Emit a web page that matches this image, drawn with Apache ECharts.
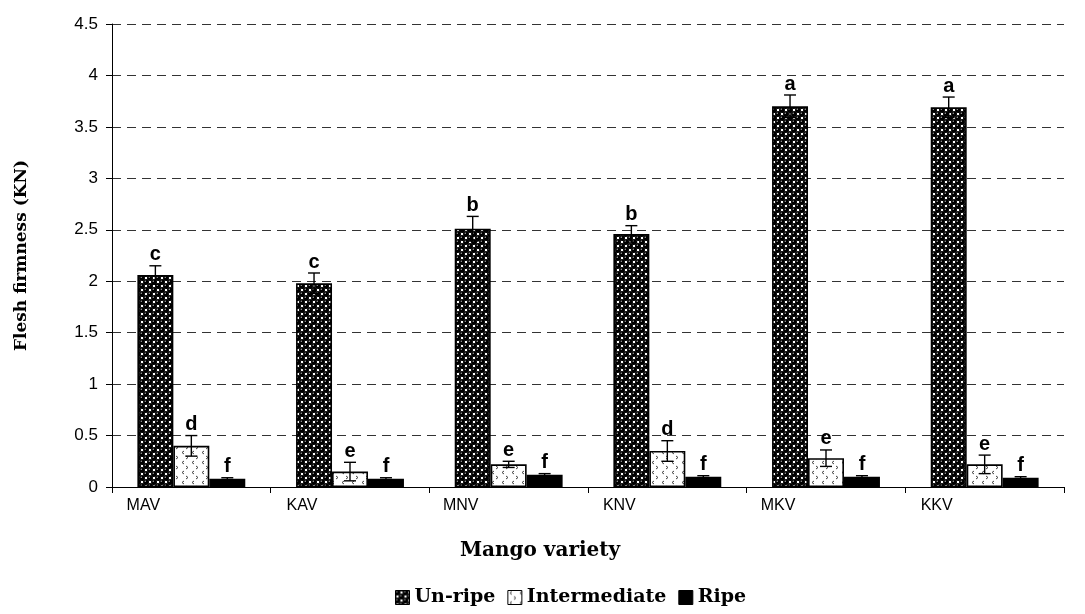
<!DOCTYPE html>
<html>
<head>
<meta charset="utf-8">
<script src="https://cdn.jsdelivr.net/npm/echarts@6/dist/echarts.min.js"></script>
<style>
  html, body { margin: 0; padding: 0; background: #fff; }
  #chart { width: 1085px; height: 614px; }
</style>
</head>
<body>
<div id="chart"></div>
<script>
// data
const categories = ['MAV', 'KAV', 'MNV', 'KNV', 'MKV', 'KKV']
const seriesNames = ['Un-ripe', 'Intermediate', 'Ripe']

const unripe = [2.06, 1.98, 2.51, 2.46, 3.70, 3.69]
const intermediate = [0.40, 0.15, 0.22, 0.35, 0.28, 0.22]
const ripe = [0.08, 0.08, 0.12, 0.10, 0.10, 0.09]

const unripeErr = [0.09, 0.10, 0.12, 0.08, 0.11, 0.10]
const intermediateErr = [0.10, 0.09, 0.03, 0.10, 0.08, 0.09]
const ripeErr = [0.01, 0.01, 0.01, 0.01, 0.01, 0.01]

const unripeLetters = ['c', 'c', 'b', 'b', 'a', 'a']
const intermediateLetters = ['d', 'e', 'e', 'd', 'e', 'e']
const ripeLetters = ['f', 'f', 'f', 'f', 'f', 'f']

const yTicks = [0, 0.5, 1, 1.5, 2, 2.5, 3, 3.5, 4, 4.5]

const values = [unripe, intermediate, ripe]
const errors = [unripeErr, intermediateErr, ripeErr]
const letters = [unripeLetters, intermediateLetters, ripeLetters]

const catGap = 0.32
const serif = '"DejaVu Serif", "Liberation Serif", serif'

// fill patterns
function spherePattern() {
  const c = document.createElement('canvas')
  c.width = 8; c.height = 8
  const g = c.getContext('2d')
  g.fillStyle = '#fff'
  g.fillRect(0, 0, 8, 8)
  g.fillStyle = '#000'
  ;[[2, 2], [6, 6], [10, 2], [-2, 6], [2, 10], [6, -2], [10, 10], [-2, -2]].forEach(p => {
    g.beginPath(); g.arc(p[0], p[1], 3.0, 0, Math.PI * 2); g.fill()
  })
  g.fillStyle = '#aaa'
  ;[[1.3, 1.3], [5.3, 5.3]].forEach(p => {
    g.beginPath(); g.arc(p[0], p[1], 0.7, 0, Math.PI * 2); g.fill()
  })
  return c
}
function dotPattern() {
  const c = document.createElement('canvas')
  c.width = 10; c.height = 10
  const g = c.getContext('2d')
  g.fillStyle = '#fff'
  g.fillRect(0, 0, 10, 10)
  g.strokeStyle = '#444'
  g.lineWidth = 1
  g.beginPath()
  g.moveTo(4, 1); g.lineTo(2, 2.5); g.lineTo(4, 4)
  g.moveTo(6, 6); g.lineTo(8, 7.5); g.lineTo(6, 9)
  g.stroke()
  return c
}

const fills = [
  { image: spherePattern(), repeat: 'repeat' },
  { image: dotPattern(), repeat: 'repeat' },
  '#000'
]

const chart = echarts.init(document.getElementById('chart'))

const barSeries = seriesNames.map((name, i) => ({
  name: name,
  type: 'bar',
  data: values[i],
  barGap: 0,
  barCategoryGap: (catGap * 100) + '%',
  itemStyle: { color: fills[i], borderColor: '#000', borderWidth: 1.6 },
  animation: false
}))

// error bars + significance letters drawn on top of the bars
const errData = []
values.forEach((vals, s) => {
  vals.forEach((v, k) => errData.push([k, v, errors[s][k], s]))
})

const errSeries = {
  type: 'custom',
  data: errData,
  z: 10,
  silent: true,
  animation: false,
  renderItem: function (params, api) {
    const k = api.value(0), v = api.value(1), e = api.value(2), s = api.value(3)
    const band = api.size([1, 0])[0]
    const bw = band * (1 - catGap) / 3
    const x = api.coord([k, 0])[0] + (s - 1) * bw
    const yHi = api.coord([k, v + e])[1]
    const yLo = api.coord([k, v - e])[1]
    const cap = 6
    const stroke = { stroke: '#000', lineWidth: 1.4 }
    return {
      type: 'group',
      children: [
        { type: 'line', shape: { x1: x, y1: yHi, x2: x, y2: yLo }, style: stroke },
        { type: 'line', shape: { x1: x - cap, y1: yHi, x2: x + cap, y2: yHi }, style: stroke },
        { type: 'line', shape: { x1: x - cap, y1: yLo, x2: x + cap, y2: yLo }, style: stroke },
        {
          type: 'text',
          style: {
            text: letters[s][k],
            x: x, y: yHi - 1,
            align: 'center', verticalAlign: 'bottom',
            font: 'bold 20px "Liberation Sans", Arial, sans-serif',
            fill: '#000'
          }
        }
      ]
    }
  }
}

chart.setOption({
  backgroundColor: '#fff',
  animation: false,
  grid: { left: 112, right: 21, top: 24, bottom: 127 },
  legend: {
    bottom: 2,
    left: 390,
    data: seriesNames,
    itemWidth: 14,
    itemHeight: 14,
    itemGap: 12,
    icon: 'rect',
    textStyle: { fontFamily: serif, fontWeight: 'bold', fontSize: 19, color: '#000' },
    itemStyle: { borderColor: '#000', borderWidth: 1 }
  },
  xAxis: {
    type: 'category',
    data: categories,
    name: 'Mango variety',
    nameLocation: 'middle',
    nameGap: 54,
    nameTextStyle: {
      fontFamily: serif, fontWeight: 'bold', fontSize: 20, color: '#000',
      padding: [0, 96, 0, 0]
    },
    axisLine: { lineStyle: { color: '#000', width: 1 } },
    axisTick: { show: true, inside: false, length: 6, lineStyle: { color: '#000' } },
    axisLabel: {
      color: '#000', fontSize: 16, margin: 11,
      fontFamily: '"Liberation Sans", Arial, sans-serif',
      padding: [0, 96, 0, 0]
    }
  },
  yAxis: {
    type: 'value',
    min: 0,
    max: 4.5,
    interval: 0.5,
    name: 'Flesh firmness (KN)',
    nameLocation: 'middle',
    nameGap: 82,
    nameTextStyle: { fontFamily: serif, fontWeight: 'bold', fontSize: 17, color: '#000' },
    axisLine: { show: true, lineStyle: { color: '#000', width: 1 } },
    axisTick: { show: true, length: 6, lineStyle: { color: '#000' } },
    axisLabel: {
      color: '#000', fontSize: 17, margin: 14,
      fontFamily: '"Liberation Sans", Arial, sans-serif',
      formatter: v => yTicks.includes(v) ? String(v) : ''
    },
    splitLine: { show: true, lineStyle: { color: '#333', type: [9, 6], width: 1 } }
  },
  series: barSeries.concat([errSeries])
})
</script>
</body>
</html>
